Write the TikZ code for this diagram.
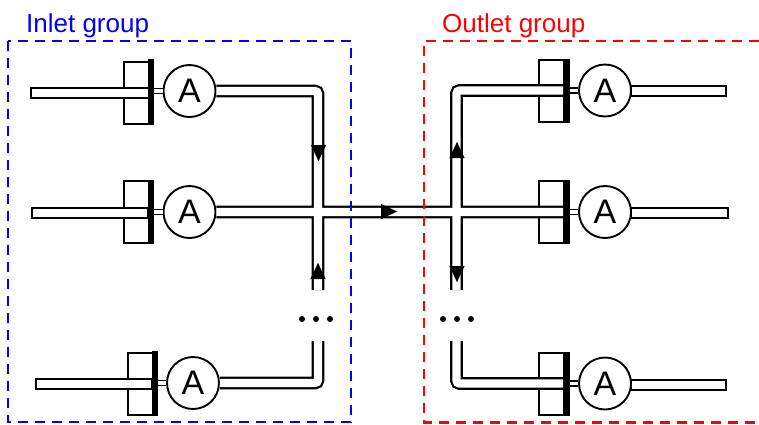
\documentclass[tikz,border=0pt]{standalone}
\usepackage{fontspec}
\setmainfont{Liberation Sans}
\usetikzlibrary{arrows.meta}
\tikzset{
  block/.style={rectangle, draw, line width=2pt, fill=white, inner sep=0pt, minimum width=29pt, minimum height=62pt},
  bar/.style={rectangle, fill=black, inner sep=0pt, minimum width=6.5pt, minimum height=64pt},
  meter/.style={circle, draw, line width=1.9pt, fill=white, inner sep=0pt, minimum size=52pt, font=\fontsize{34}{34}\selectfont},
  tube/.style={rectangle, draw, line width=2.2pt, fill=white, inner sep=0pt, minimum height=10.5pt},
  pipe/.style={double, double distance=8.2pt, line width=2.2pt},
  stub/.style={double, double distance=3.5pt, line width=1.5pt},
  flow/.style={-{Triangle[length=16pt,width=15pt]}, line width=.1pt},
  dot/.style={circle, fill, inner sep=0pt, minimum size=6pt},
  grouplabel/.style={anchor=west, inner sep=0pt, font=\fontsize{26}{30}\selectfont},
  groupline/.style={dash pattern=on 10pt off 7pt, line width=2.2pt},
}
\begin{document}
\begin{tikzpicture}[x=1pt,y=-1pt]
\useasboundingbox (0,0) rectangle (759,424);

% blocks on the inlet side
\node[block] (bid1) at (138.5,92.5){};
\node[block] (bid2) at (138.5,212){};
\node[block] (bid3) at (142.5,384){};
% blocks on the outlet side
\node[block] (bid4) at (553.5,90.5){};
\node[block] (bid5) at (553.5,212){};
\node[block] (bid6) at (553.5,383.5){};

% junctions and bends
\coordinate (jid1) at (318,212);
\coordinate (jid2) at (456.5,212);
\coordinate (cid1) at (318,91);
\coordinate (cid2) at (318,290);
\coordinate (cid3) at (318,341);
\coordinate (cid4) at (318,383);
\coordinate (cid5) at (456.5,90.5);
\coordinate (cid6) at (456.5,290);
\coordinate (cid7) at (456.5,341);
\coordinate (cid8) at (456.5,383.5);

% meters, inlet side
\node[meter] (aid1) at (189.5,91){A};
\node[meter] (aid2) at (189.5,212){A};
\node[meter] (aid3) at (193,383){A};
% meters, outlet side
\node[meter] (aid4) at (605,90.5){A};
\node[meter] (aid5) at (605,212){A};
\node[meter] (aid6) at (605,383.5){A};

% closed tube ends
\node[tube, minimum width=118pt] (tid1) at (90,93){};
\node[tube, minimum width=116pt] (tid2) at (90,213){};
\node[tube, minimum width=116pt] (tid3) at (94,384){};
\node[tube, minimum width=95pt] (tid4) at (678.5,91){};
\node[tube, minimum width=97pt] (tid5) at (679.5,213){};
\node[tube, minimum width=95pt] (tid6) at (678.5,385){};

% plate on each block
\node[bar] (pid1) at (151,91){};
\node[bar] (pid2) at (151,212){};
\node[bar] (pid3) at (155,383){};
\node[bar] (pid4) at (566.5,90.5){};
\node[bar] (pid5) at (566.5,212){};
\node[bar] (pid6) at (566.5,383.5){};

\draw[stub](pid1.east) -- (aid1.west);
\draw[stub](pid2.east) -- (aid2.west);
\draw[stub](pid3.east) -- (aid3.west);
\draw[stub](pid4.east) -- (aid4.west);
\draw[stub](pid5.east) -- (aid5.west);
\draw[stub](pid6.east) -- (aid6.west);

% the whole manifold is one path so that the crossings stay open
\draw[pipe, rounded corners=3pt]
  (aid1.east) -- (cid1) -- (cid2)
  (cid3) -- (cid4) -- (aid3.east)
  (aid2.east) -- (jid1) -- (jid2) -- (pid5.west)
  (pid4.west) -- (cid5) -- (cid6)
  (cid7) -- (cid8) -- (pid6.west);

% flow arrows
\coordinate (fid1) at (318.5,146);
\coordinate (fid2) at (318.5,161);
\coordinate (fid3) at (318,278);
\coordinate (fid4) at (318,263);
\coordinate (fid5) at (381,211.5);
\coordinate (fid6) at (397,211.5);
\coordinate (fid7) at (457,157);
\coordinate (fid8) at (457,142);
\coordinate (fid9) at (457,267);
\coordinate (fid10) at (457,282);
\draw[flow](fid1) -- (fid2);
\draw[flow](fid3) -- (fid4);
\draw[flow](fid5) -- (fid6);
\draw[flow](fid7) -- (fid8);
\draw[flow](fid9) -- (fid10);

\node[dot] (did1) at (302,319){};
\node[dot] (did2) at (316,319){};
\node[dot] (did3) at (330,319){};
\node[dot] (did4) at (443,319){};
\node[dot] (did5) at (457,319){};
\node[dot] (did6) at (471,319){};

% group frames
\draw[groupline, blue] (8,41) rectangle (351,422);
\draw[groupline, red] (759,41) -- (424,41) -- (424,422.5) -- (759,422.5);
\node[grouplabel, blue] (inlet) at (26,26){Inlet group};
\node[grouplabel, red] (outlet) at (442,26){Outlet group};

\end{tikzpicture}
\end{document}
